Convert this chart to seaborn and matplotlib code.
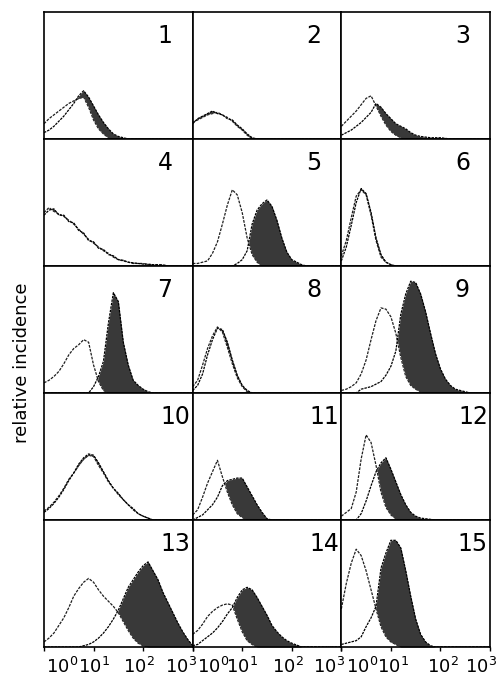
import numpy as np
import matplotlib
matplotlib.use("Agg")
import matplotlib.pyplot as plt
import seaborn as sns
from matplotlib import font_manager
from matplotlib.ticker import NullLocator
from matplotlib.transforms import ScaledTranslation

# ---------------- data (relative incidence, fraction of panel height) ----------------
decades = [0.0, 0.1, 0.2, 0.3, 0.4, 0.5, 0.6, 0.7, 0.8, 0.9, 1.0, 1.1, 1.2, 1.3, 1.4, 1.5,
           1.6, 1.7, 1.8, 1.9, 2.0, 2.1, 2.2, 2.3, 2.4, 2.5, 2.6, 2.7, 2.8, 2.9, 3.0]
panel_labels = [str(i) for i in range(1, 16)]
tick_values = [1, 10, 100, 1000]
tick_labels = [r"$\mathregular{10^0}$", r"$\mathregular{10^1}$",
               r"$\mathregular{10^2}$", r"$\mathregular{10^3}$"]

# open (control) histograms; values beyond the listed ones are empty channels (0)
open_1 = [.12, .16, .19, .22, .25, .28, .30, .32, .33, .25, .15, .08, .04, .01]
open_2 = [.13, .15, .17, .19, .20, .21, .19, .17, .14, .10, .07, .03]
open_3 = [.10, .14, .18, .22, .27, .32, .34, .26, .18, .11, .06, .03, .01]
open_4 = [.42, .46, .43, .41, .39, .36, .33, .29, .25, .21, .18, .15, .12, .10, .07, .05,
          .04, .03, .02, .02, .02, .01, .01, .01, .01]
open_5 = [.02, .02, .03, .04, .10, .19, .33, .48, .60, .56, .42, .22, .09, .03]
open_6 = [.08, .20, .38, .55, .60, .56, .40, .20, .07, .03, .01]
open_7 = [.08, .10, .13, .17, .23, .30, .35, .38, .42, .40, .22, .09, .02]
open_8 = [.05, .10, .22, .35, .45, .52, .48, .36, .23, .12, .05, .01]
open_9 = [.02, .03, .05, .08, .15, .26, .42, .57, .67, .66, .60, .47, .28, .13, .06, .03, .01]
open_10 = [.07, .10, .14, .19, .25, .32, .37, .43, .48, .51, .50, .43, .37, .30, .25, .20,
           .16, .12, .08, .05, .03, .015]
open_11 = [.04, .08, .18, .29, .38, .47, .34, .22, .12, .05, .02]
open_12 = [.03, .06, .09, .22, .48, .67, .61, .43, .22, .10, .04, .01]
open_13 = [.04, .07, .11, .17, .23, .31, .40, .46, .51, .54, .51, .45, .40, .36, .32, .27,
           .20, .13, .07, .03, .01]
open_14 = [.10, .13, .18, .24, .28, .31, .33, .34, .33, .22, .12, .05, .02]
open_15 = [.30, .50, .66, .77, .72, .60, .45, .30, .16, .08, .04, .02]

# filled (stained) histograms
filled_1 = [.05, .07, .10, .14, .18, .23, .28, .34, .38, .33, .26, .19, .13, .08, .04, .02, .01]
filled_2 = [.12, .16, .18, .20, .22, .20, .19, .16, .15, .11, .08, .04, .01]
filled_3 = [.03, .05, .07, .10, .13, .17, .21, .28, .25, .20, .16, .12, .10, .08, .05, .03,
            .02, .015, .01, .01, .01, .005]
filled_4 = [.40, .44, .45, .40, .40, .35, .34, .28, .26, .20, .19, .14, .13, .09, .08, .05,
            .045, .03, .025, .02, .015, .015, .01, .01, .005]
filled_5 = [0, 0, 0, 0, 0, 0, 0, 0, 0, .02, .05, .12, .33, .44, .49, .52, .47, .36, .22, .11,
            .05, .03, .01]
filled_6 = [.04, .15, .32, .50, .61, .57, .42, .22, .09, .03, .01]
filled_7 = [0, 0, 0, 0, 0, 0, 0, 0, 0, 0, .05, .13, .25, .55, .79, .72, .40, .22, .10, .06,
            .03, .01]
filled_8 = [.02, .06, .15, .30, .42, .51, .50, .40, .26, .14, .06, .02]
filled_9 = [0, 0, 0, 0, .03, .04, .05, .07, .09, .14, .21, .33, .62, .78, .88, .87, .78, .64,
            .47, .31, .19, .11, .06, .03, .02, .01]
filled_10 = [.06, .09, .13, .18, .24, .31, .37, .44, .49, .52, .51, .45, .38, .31, .25, .21,
             .16, .12, .09, .05, .03, .015]
filled_11 = [0, .02, .04, .08, .12, .18, .27, .31, .32, .33, .33, .26, .19, .12, .06, .01]
filled_12 = [0, 0, 0, 0, .05, .15, .27, .38, .45, .49, .40, .30, .20, .12, .06, .03, .015,
             .01, .005]
filled_13 = [0, 0, 0, 0, 0, 0, 0, 0, .01, .02, .04, .07, .11, .16, .22, .29, .38, .47, .53,
             .59, .64, .67, .60, .53, .43, .35, .27, .19, .12, .06, .01]
filled_14 = [.01, .02, .05, .08, .11, .15, .20, .26, .31, .39, .45, .47, .45, .39, .32, .25,
             .17, .12, .08, .05, .03, .015]
filled_15 = [.02, .03, .04, .05, .08, .16, .23, .32, .62, .74, .84, .84, .78, .60, .40, .22,
             .10, .04, .01]

opens = [open_1, open_2, open_3, open_4, open_5, open_6, open_7, open_8, open_9, open_10,
         open_11, open_12, open_13, open_14, open_15]
filleds = [filled_1, filled_2, filled_3, filled_4, filled_5, filled_6, filled_7, filled_8,
           filled_9, filled_10, filled_11, filled_12, filled_13, filled_14, filled_15]


def full(v):
    return np.array(list(v) + [0.0] * (len(decades) - len(v)), dtype=float)


# ---------------- styling ----------------
sns.set_theme(style="white")
names = {f.name for f in font_manager.fontManager.ttflist}
tick_font = "Liberation Sans Narrow" if "Liberation Sans Narrow" in names else "Liberation Sans"
plt.rcParams["font.family"] = ["DejaVu Sans"]
plt.rcParams["mathtext.fontset"] = "custom"
plt.rcParams["mathtext.rm"] = tick_font
plt.rcParams["mathtext.it"] = tick_font
plt.rcParams["mathtext.bf"] = tick_font

W, H = 500, 678
fig, axes = plt.subplots(5, 3, figsize=(W / 100, H / 100), dpi=100)
fig.subplots_adjust(left=44 / W, right=490 / W, top=1 - 12 / H, bottom=1 - 647 / H,
                    wspace=0, hspace=0)

chan = np.power(10.0, np.array(decades))
label_offsets = [[2, 0, -4, -12], [4, 0, -4, -12], [5, 2, 2, -9]]

for i, ax in enumerate(axes.flat):
    o = full(opens[i])
    f = full(filleds[i])
    sns.lineplot(x=chan, y=o, ax=ax, color="#1e1e1e", lw=0.9,
                 linestyle=(0, (2.2, 1.0)), zorder=2)
    ax.fill_between(chan, o, f, where=f >= o, interpolate=True,
                    color="#393939", lw=0, zorder=3)
    sns.lineplot(x=chan, y=f, ax=ax, color="black", lw=0.9,
                 linestyle=(0, (2.0, 0.8)), zorder=4)
    ax.set_xscale("log")
    ax.set_xlim(1, 1000)
    ax.set_ylim(0, 1)
    ax.set_yticks([])
    ax.set_xlabel("")
    ax.set_ylabel("")
    ax.xaxis.set_minor_locator(NullLocator())
    for s in ax.spines.values():
        s.set_visible(True)
        s.set_color("black")
        s.set_linewidth(1.2)
        s.set_zorder(5)
    right_gap = 20 if len(panel_labels[i]) == 1 else 2
    ax.text(1 - right_gap / 148, 1 - 12 / 127, panel_labels[i], transform=ax.transAxes,
            ha="right", va="top", fontsize=17, color="black")
    row, col = divmod(i, 3)
    ax.set_xticks(tick_values)
    if row < 4:
        ax.tick_params(axis="x", bottom=False, labelbottom=False)
    else:
        ax.set_xticklabels(tick_labels)
        ax.tick_params(axis="x", bottom=True, direction="out", length=3, width=1,
                       pad=4, labelsize=13, colors="black")
        for j, lab in enumerate(ax.get_xticklabels()):
            lab.set_ha("left" if j == 0 else "center")
            lab.set_transform(lab.get_transform() +
                              ScaledTranslation(label_offsets[col][j] / 100, 0,
                                                fig.dpi_scale_trans))

fig.text(22 / W, 1 - 363 / H, "relative incidence", rotation=90, ha="center",
         va="center", fontsize=13, color="black")

fig.savefig("out.png", dpi=100)
